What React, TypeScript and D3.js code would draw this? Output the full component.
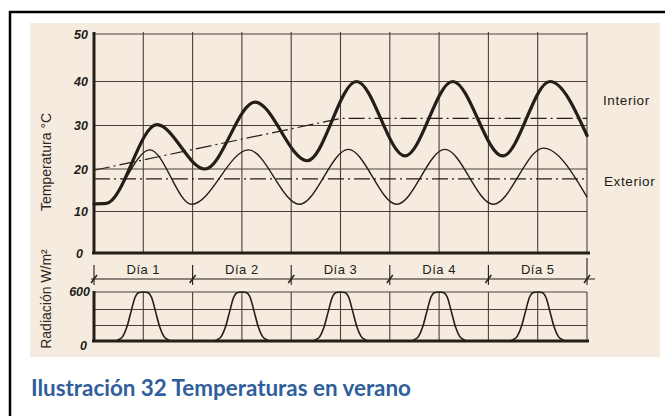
import React from 'react';
import * as d3 from 'd3';

// hora (0-120 h, 5 días) y temperatura °C
const interiorHours = [0, 3, 15.3, 27, 39.2, 51.9, 63.9, 75.7, 87.3, 99.5, 111, 120];
const interiorTemp = [11.8, 11.9, 30.2, 20, 35.3, 21.9, 40, 23, 40, 23, 40, 27.7];

const exteriorHours = [0, 2.5, 13.6, 23.8, 37.6, 50, 61.9, 73.7, 85.4, 97.2, 109.4, 120];
const exteriorTemp = [11.7, 11.8, 24.4, 11.7, 24.4, 11.7, 24.5, 11.7, 24.5, 11.7, 24.8, 13.4];

// medias (trazo y punto)
const interiorMeanHours = [0, 60, 120];
const interiorMeanTemp = [19.7, 31.6, 31.6];
const exteriorMeanHours = [0, 120];
const exteriorMeanTemp = [17.7, 17.7];

// radiación de un día (hora del día, W/m2)
const radHours = [0, 5, 6, 7, 8, 9, 10, 11, 12, 13, 14, 15, 16, 17, 18, 19, 24];
const radValues = [0, 0, 18, 60, 180, 370, 540, 595, 600, 595, 540, 370, 180, 60, 18, 0, 0];

const days = ['Día 1', 'Día 2', 'Día 3', 'Día 4', 'Día 5'];
const tempTicks = [0, 10, 20, 30, 40, 50];
const radTicks = [0, 600];
const radGrid = [200, 400, 600];

const ink = '#241d19';
const grid = '#4a4039';

const pairs = (a: number[], b: number[]) => a.map((h, i) => [h, b[i]] as [number, number]);

export default function App() {
  const x = d3.scaleLinear().domain([0, 120]).range([94, 587]);
  // the scanned grid is not perfectly even
  const yT = d3.scaleLinear().domain([0, 10, 20, 30, 40, 50]).range([253, 211.5, 169, 125.5, 81.5, 34]);
  const yR = d3.scaleLinear().domain([0, 200, 400, 600]).range([341, 325.5, 309.5, 292]);

  const tempLine = d3.line<[number, number]>().x(d => x(d[0])).y(d => yT(d[1])).curve(d3.curveMonotoneX);
  const straight = d3.line<[number, number]>().x(d => x(d[0])).y(d => yT(d[1]));
  const radLine = d3.line<[number, number]>().x(d => x(d[0])).y(d => yR(d[1])).curve(d3.curveMonotoneX);

  const halfDays = d3.range(0, 121, 12);
  const dayEdges = d3.range(0, 121, 24);
  const dash = '16 4 2 4';
  const font = '"Liberation Sans", Arial, sans-serif';

  return (
    <svg width={665} height={416} style={{ position: 'absolute', left: 0, top: 0, background: '#fff' }}>
      <rect x={30} y={23} width={630} height={334} fill="#F5ECDF" />
      <rect x={10} y={12} width={700} height={450} fill="none" stroke="#000" strokeWidth={2.5} />

      {/* temperatura: rejilla */}
      <g stroke={grid} strokeWidth={1.1}>
        {tempTicks.slice(1).map(t => (
          <line key={t} x1={x(0)} x2={x(120)} y1={yT(t)} y2={yT(t)} />
        ))}
        {halfDays.slice(1).map(h => (
          <line key={h} x1={x(h)} x2={x(h)} y1={yT(50) - 2} y2={yT(0)} />
        ))}
      </g>
      <line x1={x(0)} x2={x(0)} y1={yT(50) - 2} y2={yT(0) + 1} stroke={ink} strokeWidth={3} />
      <line x1={x(0) - 2} x2={x(120) + 3} y1={yT(0)} y2={yT(0)} stroke={ink} strokeWidth={3} />

      {/* medias */}
      <path d={straight(pairs(interiorMeanHours, interiorMeanTemp)) || ''} fill="none" stroke={ink} strokeWidth={1.2} strokeDasharray={dash} />
      <path d={straight(pairs(exteriorMeanHours, exteriorMeanTemp)) || ''} fill="none" stroke={ink} strokeWidth={1.2} strokeDasharray={dash} />

      {/* curvas */}
      <path d={tempLine(pairs(exteriorHours, exteriorTemp)) || ''} fill="none" stroke={ink} strokeWidth={1.4} />
      <path d={tempLine(pairs(interiorHours, interiorTemp)) || ''} fill="none" stroke={ink} strokeWidth={3.2} strokeLinecap="round" />

      <g fontFamily={font} fontWeight="bold" fontStyle="italic" fontSize={12.5} fill={ink} textAnchor="end">
        {tempTicks.map(t => (
          <text key={t} x={t === 0 ? 83 : 88} y={yT(t) + 4.5}>{t}</text>
        ))}
      </g>

      <g fontFamily={font} fontSize={13.5} fill="#1e1a17" letterSpacing={0.6}>
        <text x={603} y={105}>Interior</text>
        <text x={604} y={186}>Exterior</text>
      </g>

      {/* fila de días */}
      <line x1={x(0) - 3} x2={x(120) + 8} y1={279} y2={279} stroke={ink} strokeWidth={1.1} />
      <g stroke={ink} strokeWidth={1.1}>
        {dayEdges.map(h => (
          <g key={h}>
            <line x1={x(h)} x2={x(h)} y1={h === 120 ? 258 : 265} y2={285} />
            <line x1={x(h) - 3} x2={x(h) + 3} y1={283} y2={275} strokeWidth={1.4} />
          </g>
        ))}
      </g>
      <g fontFamily={font} fontSize={13} fill={ink} textAnchor="middle" letterSpacing={0.5}>
        {days.map((d, i) => (
          <text key={d} x={x(i * 24 + 12)} y={273.5}>{d}</text>
        ))}
      </g>

      {/* radiación */}
      <g stroke={grid} strokeWidth={1.1}>
        {radGrid.map(r => (
          <line key={r} x1={x(0)} x2={x(120)} y1={yR(r)} y2={yR(r)} />
        ))}
        {halfDays.slice(1).map(h => (
          <line key={h} x1={x(h)} x2={x(h)} y1={yR(600)} y2={yR(0)} />
        ))}
      </g>
      {days.map((d, i) => (
        <path key={d} d={radLine(pairs(radHours.map(h => i * 24 + h), radValues)) || ''} fill="none" stroke={ink} strokeWidth={1.6} />
      ))}
      <line x1={x(0)} x2={x(0)} y1={yR(600) - 1} y2={yR(0) + 1} stroke={ink} strokeWidth={3} />
      <line x1={x(0) - 2} x2={x(120) + 2} y1={yR(0)} y2={yR(0)} stroke={ink} strokeWidth={3} />
      <g fontFamily={font} fontWeight="bold" fontStyle="italic" fontSize={12.5} fill={ink} textAnchor="end">
        {radTicks.map(r => (
          <text key={r} x={r === 0 ? 87 : 90} y={r === 0 ? 350 : yR(r) + 4}>{r}</text>
        ))}
      </g>

      {/* títulos de ejes */}
      <g fontFamily={font} fontSize={14} fill="#2e2824" textAnchor="middle">
        <text transform="translate(51,162) rotate(-90)">Temperatura °C</text>
        <text transform="translate(51,299) rotate(-90)">Radiación W/m²</text>
      </g>

      <text x={31} y={396} fontFamily='Lato, "Open Sans", sans-serif' fontWeight="bold" fontSize={22} fill="#2F5E9C" textLength={380} lengthAdjust="spacingAndGlyphs">
        Ilustración 32 Temperaturas en verano
      </text>
    </svg>
  );
}
